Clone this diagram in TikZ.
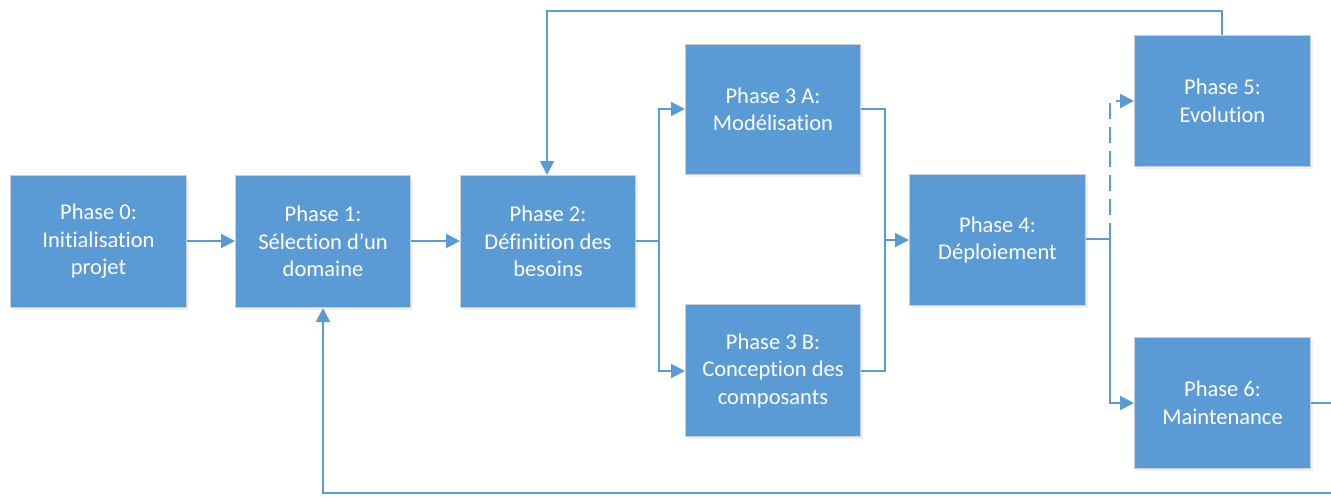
\documentclass[tikz,border=0pt]{standalone}
\usepackage{fontspec}
\setmainfont{Carlito}[Ligatures={NoCommon}]
\usetikzlibrary{arrows.meta}
\definecolor{boxblue}{HTML}{5B9BD5}
\definecolor{boxedge}{HTML}{C9CFD6}
\tikzset{
  phase/.style={draw=boxedge, line width=1pt, fill=boxblue, text=white, align=center,
    font=\fontsize{22.5}{27.5}\selectfont, inner sep=0pt, anchor=north west},
  conn/.style={draw=boxblue, line width=2pt},
  arr/.style={conn, -{Triangle[length=14pt,width=14pt]}},
}
\begin{document}
\begin{tikzpicture}[x=1pt,y=-1pt]
\useasboundingbox (0,0) rectangle (1331,496);
\fill[white] (0,0) rectangle (1331,496);
% shadows
\foreach \a/\b/\c/\d in {10/175/186/307, 235/175/410/307, 460/175/635/307, 685/44/860/174, 685/304/860/436, 909/174/1085/305, 1134/35/1310/166, 1134/337/1310/468}
  \fill[gray!12] (\a+3,\b+3) rectangle (\c+3,\d+3);
\node[phase, minimum width=176pt, minimum height=132pt] (p0) at (10,175) {Phase 0:\\Initialisation\\projet};
\node[phase, minimum width=175pt, minimum height=132pt] (p1) at (235,175) {Phase 1:\\Sélection d’un\\domaine};
\node[phase, minimum width=175pt, minimum height=132pt] (p2) at (460,175) {Phase 2:\\Définition des\\besoins};
\node[phase, minimum width=175pt, minimum height=130pt] (p3a) at (685,44) {Phase 3 A:\\Modélisation};
\node[phase, minimum width=175pt, minimum height=132pt] (p3b) at (685,304) {Phase 3 B:\\Conception des\\composants};
\node[phase, minimum width=176pt, minimum height=131pt] (p4) at (909,174) {Phase 4:\\Déploiement};
\node[phase, minimum width=176pt, minimum height=131pt] (p5) at (1134,35) {Phase 5:\\Evolution};
\node[phase, minimum width=176pt, minimum height=131pt] (p6) at (1134,337) {Phase 6:\\Maintenance};
% coordinates
\coordinate (s2) at (659,241);
\coordinate (j3) at (885,240);
\coordinate (s4) at (1110,239);
\coordinate (t5) at (1222,11);
\coordinate (b6) at (1333,493);
% connectors
\draw[arr] (p0.east |- 0,241) -- (p1.west |- 0,241);
\draw[arr] (p1.east |- 0,241) -- (p2.west |- 0,241);
\draw[conn] (p2.east |- s2) -- (s2);
\draw[arr] (s2) |- (p3a.west |- 0,109);
\draw[arr] (s2) |- (p3b.west |- 0,371);
\draw[conn] (p3a.east |- 0,109) -| (j3);
\draw[conn] (p3b.east |- 0,371) -| (j3);
\draw[arr] (j3) -- (p4.west |- j3);
\draw[conn] (p4.east |- s4) -- (s4);
\draw[arr] (s4) |- (p6.west |- 0,403);
\draw[arr, dash pattern=on 16pt off 8pt] (s4) |- (p5.west |- 0,101);
\draw[arr] (p5.north -| t5) -- (t5) -| (p2.north -| 547,0);
\draw[arr] (p6.east |- 0,403) -| (b6) -| (p1.south);
\end{tikzpicture}
\end{document}
